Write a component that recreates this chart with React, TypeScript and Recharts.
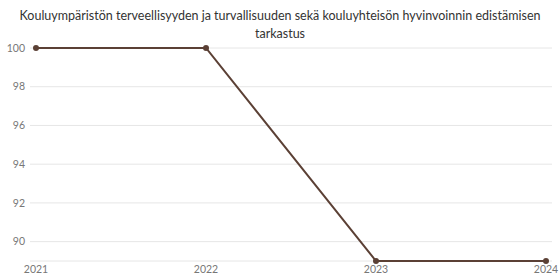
import React from "react";
import { LineChart, Line, XAxis, YAxis, CartesianGrid } from "recharts";

const years = ["2021", "2022", "2023", "2024"];
const values = [100, 100, 89, 89];
const yTicks = [90, 92, 94, 96, 98, 100];
const titleLine1 = "Kouluympäristön terveellisyyden ja turvallisuuden sekä kouluyhteisön hyvinvoinnin edistämisen";
const titleLine2 = "tarkastus";

const data = years.map((y, i) => ({ year: y, value: values[i] }));

export default function App() {
  return (
    <div style={{ position: "absolute", left: 0, top: 0, width: 560, height: 280, background: "#fff", fontFamily: "Lato, sans-serif" }}>
      <div
        style={{
          position: "absolute",
          left: 0,
          top: 7,
          width: 560,
          textAlign: "center",
          fontSize: 12.5,
          lineHeight: "18px",
          color: "#333",
          whiteSpace: "nowrap",
        }}
      >
        {titleLine1}
        <br />
        {titleLine2}
      </div>
      <LineChart width={560} height={280} data={data} margin={{ top: 48, right: 8, bottom: 0, left: 0 }}>
        <CartesianGrid vertical={false} stroke="#e6e6e6" />
        <XAxis
          dataKey="year"
          axisLine={false}
          tickLine={false}
          height={19}
          tickSize={5}
          tickMargin={0}
          padding={{ left: 6, right: 6 }}
          tick={{ fill: "#777", fontSize: 10.5, fontFamily: "Lato, sans-serif" }}
          interval={0}
        />
        <YAxis
          domain={[89, 100]}
          ticks={yTicks}
          axisLine={false}
          tickLine={false}
          width={30}
          tickSize={5}
          tickMargin={0}
          tick={{ fill: "#777", fontSize: 10.5, fontFamily: "Lato, sans-serif" }}
        />
        <Line
          type="linear"
          dataKey="value"
          stroke="#5b4035"
          strokeWidth={2}
          dot={{ r: 3, fill: "#5b4035", stroke: "#5b4035", strokeWidth: 0 }}
          isAnimationActive={false}
        />
      </LineChart>
    </div>
  );
}
